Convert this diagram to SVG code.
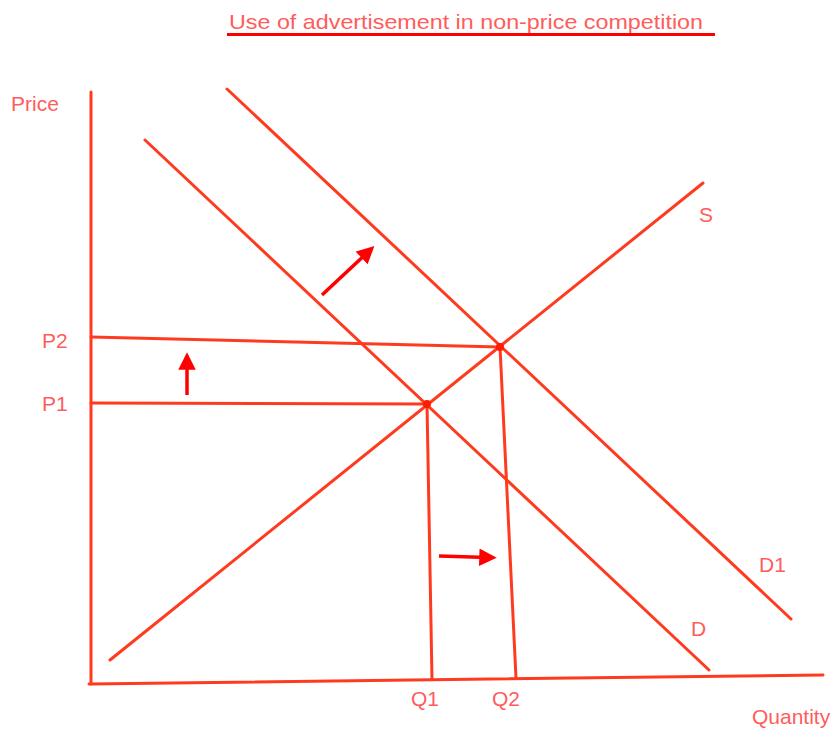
<svg xmlns="http://www.w3.org/2000/svg" width="838" height="731" viewBox="0 0 838 731">
<defs>
<marker id="ah" markerWidth="5" markerHeight="5" refX="2.5" refY="2.5" orient="auto" markerUnits="strokeWidth"><path d="M0,0 L5,2.5 L0,5 Z" fill="#ff0000"/></marker>
<style>
.ln{stroke:#ff3b1f;stroke-width:3;fill:none;stroke-linecap:round}
.ar{stroke:#ff0000;stroke-width:3.5;fill:none;marker-end:url(#ah)}
.lb{font-family:"Liberation Sans",Arial,sans-serif;font-size:21px;fill:#ff5c5c}
.dot{fill:#ff1a00}
</style>
</defs>
<rect width="838" height="731" fill="#ffffff"/>
<g id="title">
<text class="lb" x="229" y="29" textLength="474" lengthAdjust="spacingAndGlyphs">Use of advertisement in non-price competition</text>
<line x1="227" y1="34.5" x2="715" y2="34.5" stroke="#ff0000" stroke-width="3"/>
</g>
<g id="axes">
<line class="ln" x1="91" y1="92" x2="91" y2="684"/>
<line class="ln" x1="89" y1="684" x2="823" y2="675"/>
<text class="lb" x="11" y="111">Price</text>
<text class="lb" x="752" y="724">Quantity</text>
</g>
<g id="connectors">
<line class="ln" x1="145" y1="140" x2="709" y2="670"/>
<line class="ln" x1="227" y1="89" x2="791" y2="619"/>
<line class="ln" x1="110" y1="660" x2="703" y2="183"/>
<line class="ln" x1="91" y1="337" x2="500" y2="347"/>
<line class="ln" x1="91" y1="403" x2="427" y2="404"/>
<line class="ln" x1="427" y1="404" x2="432" y2="679"/>
<line class="ln" x1="500" y1="347" x2="516" y2="678"/>
<line class="ar" x1="322" y1="295" x2="368" y2="252"/>
<line class="ar" x1="187" y1="395" x2="187" y2="361"/>
<line class="ar" x1="439" y1="556" x2="488" y2="557.5"/>
</g>
<g id="eq1"><circle class="dot" cx="427" cy="404" r="4"/></g>
<g id="eq2"><circle class="dot" cx="500" cy="347" r="4"/></g>
<g id="labels">
<text class="lb" x="42" y="348">P2</text>
<text class="lb" x="42" y="411">P1</text>
<text class="lb" x="411" y="706">Q1</text>
<text class="lb" x="492" y="706">Q2</text>
<text class="lb" x="699" y="222">S</text>
<text class="lb" x="759" y="572">D1</text>
<text class="lb" x="691" y="636">D</text>
</g>
</svg>
